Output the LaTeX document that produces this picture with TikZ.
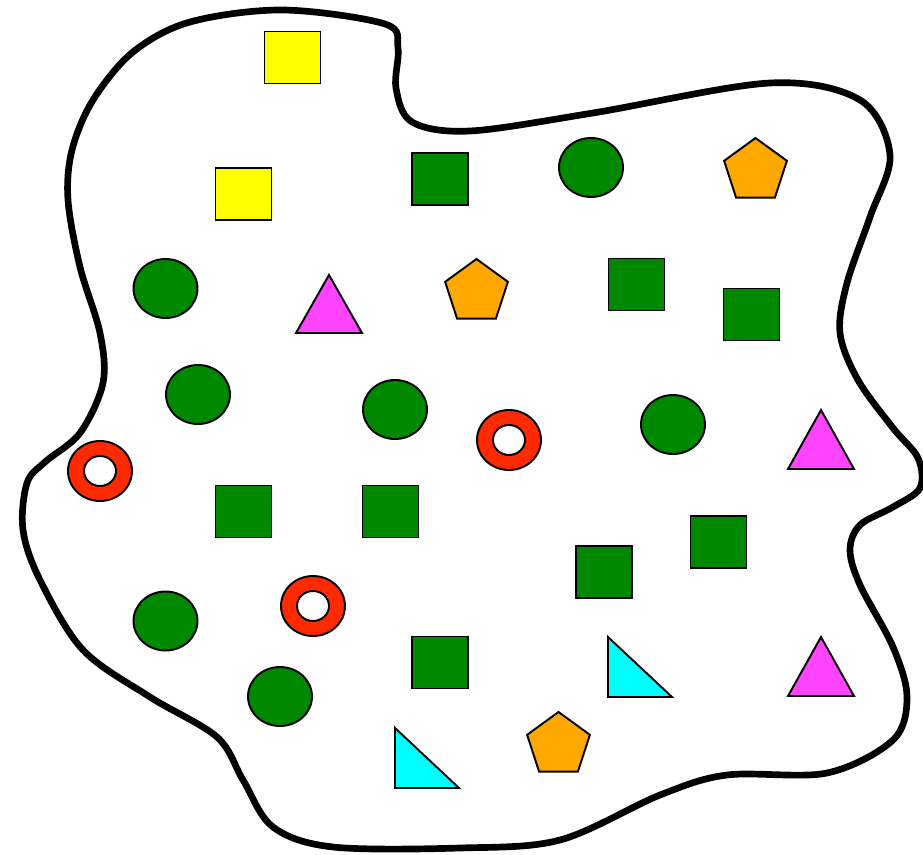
\documentclass[tikz,border=0pt]{standalone}
\usetikzlibrary{shapes.geometric}
\definecolor{sqyellow}{RGB}{255,255,0}
\definecolor{sqgreen}{RGB}{0,136,0}
\definecolor{pentorange}{RGB}{255,168,0}
\definecolor{trimagenta}{RGB}{255,68,255}
\definecolor{tricyan}{RGB}{0,255,255}
\definecolor{ringred}{RGB}{255,42,0}
\begin{document}
\begin{tikzpicture}[x=0.02cm,y=-0.02cm,
    sq/.style={rectangle,draw=black,line width=1.1pt,inner sep=0pt,minimum width=1.12cm,minimum height=1.04cm},
    blob/.style={ellipse,draw=black,line width=1.1pt,inner sep=0pt,fill=sqgreen,minimum width=1.28cm,minimum height=1.18cm},
    ring/.style={ellipse,draw=black,line width=1.1pt,inner sep=0pt,fill=ringred,minimum width=1.28cm,minimum height=1.2cm},
    hole/.style={ellipse,draw=black,line width=1.1pt,inner sep=0pt,fill=white,minimum width=0.64cm,minimum height=0.6cm},
    pent/.style={regular polygon,regular polygon sides=5,draw=black,line width=1.1pt,inner sep=0pt,fill=pentorange,minimum size=1.32cm},
    tri/.style={draw=black,line width=1.1pt,line join=miter}]
  \useasboundingbox (0,0) rectangle (923,855);
  % outline
  \draw[line width=3.8pt,line join=round] plot[smooth cycle,tension=0.55] coordinates {
    (283,10) (385,24) (398,48) (396,88) (412,122) (470,131) (593,113)
    (770,83) (860,100) (890,155) (870,217) (847,283) (840,333) (858,380)
    (893,428) (918,458) (920,488) (893,507) (860,525) (850,550) (860,585)
    (893,647) (907,697) (893,740) (827,773) (727,775) (660,795) (560,840)
    (460,848) (333,847) (273,827) (243,780) (217,737) (150,697) (83,650)
    (40,580) (23,530) (27,483) (45,462) (80,433) (103,383) (100,333)
    (80,267) (68,200) (72,150) (93,100) (133,52) (190,22)};
  % yellow squares
  \node[sq,fill=sqyellow] (y1) at (292.5,57.5) {};
  \node[sq,fill=sqyellow] (y2) at (243.5,194) {};
  % green squares
  \node[sq,fill=sqgreen] (g1) at (440,179) {};
  \node[sq,fill=sqgreen] (g2) at (636.5,284.5) {};
  \node[sq,fill=sqgreen] (g3) at (751.5,314.5) {};
  \node[sq,fill=sqgreen] (g4) at (243.5,511.5) {};
  \node[sq,fill=sqgreen] (g5) at (390.5,511.5) {};
  \node[sq,fill=sqgreen] (g6) at (604,572) {};
  \node[sq,fill=sqgreen] (g7) at (718.5,542) {};
  \node[sq,fill=sqgreen] (g8) at (440,662.5) {};
  % green circles
  \node[blob] (c1) at (591,167.5) {};
  \node[blob] (c2) at (165.5,288.5) {};
  \node[blob] (c3) at (198,394.5) {};
  \node[blob] (c4) at (395,409.5) {};
  \node[blob] (c5) at (673,424.5) {};
  \node[blob] (c6) at (165.5,621) {};
  \node[blob] (c7) at (280,696.5) {};
  % red rings
  \node[ring] (r1) at (100,471) {};
  \node[hole] (h1) at (r1) {};
  \node[ring] (r2) at (509,440) {};
  \node[hole] (h2) at (r2) {};
  \node[ring] (r3) at (313,606) {};
  \node[hole] (h3) at (r3) {};
  % orange pentagons
  \node[pent] (p1) at (755.5,171) {};
  \node[pent] (p2) at (476.5,292) {};
  \node[pent] (p3) at (558.5,745) {};
  % magenta triangles
  \draw[tri,fill=trimagenta] (329,275) -- (362,333) -- (296,333) -- cycle;
  \draw[tri,fill=trimagenta] (821,410) -- (854,469) -- (788,469) -- cycle;
  \draw[tri,fill=trimagenta] (821,637) -- (854,696) -- (788,696) -- cycle;
  % cyan triangles
  \draw[tri,fill=tricyan] (608,637) -- (608,697) -- (672,697) -- cycle;
  \draw[tri,fill=tricyan] (395,728) -- (395,788) -- (459,788) -- cycle;
\end{tikzpicture}
\end{document}
